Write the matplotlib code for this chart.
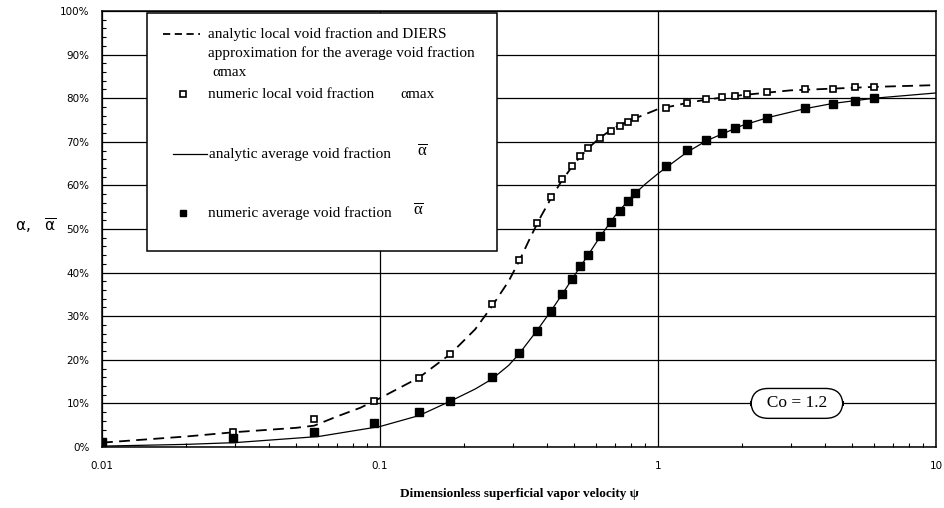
import numpy as np
import matplotlib
matplotlib.use("Agg")
import matplotlib.pyplot as plt
from matplotlib.lines import Line2D
from matplotlib.patches import Rectangle
from matplotlib.ticker import LogLocator, MultipleLocator, FuncFormatter, FixedLocator

plt.rcParams['mathtext.fontset'] = 'stix'
plt.rcParams['mathtext.default'] = 'regular'

# numeric points (psi, percent)
psi_num = [0.0296, 0.058, 0.095, 0.138, 0.179, 0.253, 0.316, 0.367, 0.412, 0.452,
           0.491, 0.524, 0.560, 0.618, 0.678, 0.730, 0.780, 0.827, 1.068, 1.27,
           1.49, 1.70, 1.89, 2.09, 2.47, 3.38, 4.26, 5.11, 5.98]
local_num = [3.4, 6.4, 10.5, 15.9, 21.3, 32.7, 42.9, 51.4, 57.3, 61.5,
             64.5, 66.7, 68.6, 70.9, 72.5, 73.6, 74.5, 75.5, 77.8, 78.9,
             79.8, 80.3, 80.5, 81.0, 81.4, 82.1, 82.1, 82.5, 82.6]
psi_avg = [0.01] + psi_num
avg_num = [1.2, 2.0, 3.4, 5.4, 8.0, 10.6, 16.0, 21.5, 26.6, 31.2, 35.0,
           38.5, 41.5, 44.0, 48.4, 51.6, 54.2, 56.4, 58.3, 64.5, 68.1,
           70.4, 72.0, 73.2, 74.1, 75.5, 77.8, 78.7, 79.4, 80.0]

# analytic curves
psi_loc_line = [0.01, 0.02, 0.03, 0.05, 0.058, 0.07, 0.085, 0.1, 0.138, 0.179, 0.22,
                0.253, 0.29, 0.316, 0.35, 0.38, 0.412, 0.45, 0.5, 0.56, 0.62, 0.7,
                0.8, 1.0, 1.27, 1.5, 2.0, 3.0, 4.26, 6.0, 10.0]
loc_line = [1.0, 2.4, 3.4, 4.4, 4.9, 7.0, 9.0, 11.2, 15.9, 21.3, 27.0,
            32.3, 38.0, 42.5, 48.5, 53.0, 57.0, 61.0, 65.0, 68.5, 71.0, 73.3,
            75.0, 77.5, 78.9, 79.7, 80.7, 81.8, 82.2, 82.6, 83.0]
psi_avg_line = [0.01, 0.02, 0.03, 0.06, 0.1, 0.138, 0.179, 0.22, 0.253, 0.29, 0.316,
                0.35, 0.367, 0.412, 0.452, 0.5, 0.56, 0.62, 0.7, 0.8, 0.9, 1.0,
                1.27, 1.5, 2.0, 2.5, 3.38, 4.26, 6.0, 10.0]
avg_line = [0.2, 0.6, 1.0, 2.4, 4.7, 7.2, 10.5, 13.3, 15.6, 18.7, 21.3,
            25.0, 26.7, 31.2, 35.0, 39.3, 44.0, 48.3, 53.0, 57.3, 60.3, 62.7,
            67.6, 70.3, 73.7, 75.6, 77.6, 78.8, 80.0, 81.2]

x_ticks = [0.01, 0.1, 1, 10]
x_labels = ['0.01', '0.1', '1', '10']

W, H = 944, 508
fig = plt.figure(figsize=(W / 100, H / 100), dpi=100)
ax = fig.add_axes([102 / W, 1 - 447 / H, 834 / W, 436 / H])

ax.plot(psi_loc_line, loc_line, color='black', lw=1.3, ls=(0, (6, 3.5)), zorder=3)
ax.plot(psi_avg_line, avg_line, color='black', lw=0.9, zorder=3)
ax.plot(psi_num, local_num, ls='none', marker='s', ms=5, mfc='white', mec='black', mew=1.2, zorder=4)
ax.plot(psi_avg, avg_num, ls='none', marker='s', ms=5.5, mfc='black', mec='black', zorder=4)

ax.set_xscale('log')
ax.set_xlim(0.01, 10)
ax.set_ylim(0, 100)
ax.xaxis.set_major_locator(FixedLocator(x_ticks))
ax.xaxis.set_major_formatter(FuncFormatter(lambda v, p: x_labels[x_ticks.index(v)] if v in x_ticks else ''))
ax.xaxis.set_minor_locator(LogLocator(base=10, subs=np.arange(2, 10)))
ax.xaxis.set_minor_formatter(FuncFormatter(lambda v, p: ''))
ax.yaxis.set_major_locator(MultipleLocator(10))
ax.yaxis.set_minor_locator(MultipleLocator(2))
ax.yaxis.set_major_formatter(FuncFormatter(lambda v, p: '%d%%' % v))
ax.tick_params(which='both', direction='in', colors='black')
ax.tick_params(which='major', length=0, labelsize=7.5)
ax.tick_params(axis='y', which='major', pad=9)
ax.tick_params(axis='x', which='major', pad=10)
ax.tick_params(which='minor', length=3, width=0.8)
ax.grid(True, which='major', color='black', lw=0.9)
for s in ax.spines.values():
    s.set_linewidth(1.1)

ax.set_xlabel('Dimensionless superficial vapor velocity ψ', fontfamily='Liberation Serif',
              fontweight='bold', fontsize=9.5, labelpad=12)
fig.text(36 / W, 1 - 226 / H, r'α,   $\overline{α}$', fontsize=11, ha='center', va='center')

ax.text(3.16, 10, '  Co = 1.2  ', fontfamily='Liberation Serif', fontsize=12.5, ha='center', va='center',
        zorder=5, bbox=dict(boxstyle='round,pad=0.4,rounding_size=1.0', fc='white', ec='black', lw=1))


# legend box drawn in figure pixels
def fx(px):
    return px / W


def fy(py):
    return 1 - py / H


fig.add_artist(Rectangle((fx(147), fy(251)), fx(497) - fx(147), fy(13) - fy(251),
                         transform=fig.transFigure, fc='white', ec='black', lw=1.1, zorder=5))
serif = dict(fontfamily='Liberation Serif', fontsize=11, va='center', ha='left', zorder=6)
fig.add_artist(Line2D([fx(163), fx(200)], [fy(34), fy(34)], transform=fig.transFigure,
                      color='black', lw=1.3, ls=(0, (4, 2.5)), zorder=6))
fig.text(fx(208), fy(34), 'analytic local void fraction and DIERS', **serif)
fig.text(fx(208), fy(53), 'approximation for the average void fraction', **serif)
fig.text(fx(212), fy(72), 'αmax', **serif)
fig.add_artist(Line2D([fx(183)], [fy(94)], transform=fig.transFigure, ls='none', marker='s', ms=4.5,
                      mfc='white', mec='black', mew=1.2, zorder=6))
fig.text(fx(208), fy(94), 'numeric local void fraction', **serif)
fig.text(fx(400), fy(94), 'αmax', **serif)
fig.add_artist(Line2D([fx(173), fx(207)], [fy(154), fy(154)], transform=fig.transFigure,
                      color='black', lw=0.9, zorder=6))
fig.text(fx(209), fy(154), 'analytic average void fraction', **serif)
fig.text(fx(417), fy(151), r'$\overline{α}$', **dict(serif, fontsize=12))
fig.add_artist(Line2D([fx(183)], [fy(213)], transform=fig.transFigure, ls='none', marker='s', ms=4.5,
                      mfc='black', mec='black', zorder=6))
fig.text(fx(208), fy(213), 'numeric average void fraction', **serif)
fig.text(fx(413), fy(210), r'$\overline{α}$', **dict(serif, fontsize=12))

fig.savefig('out.png', dpi=100)
